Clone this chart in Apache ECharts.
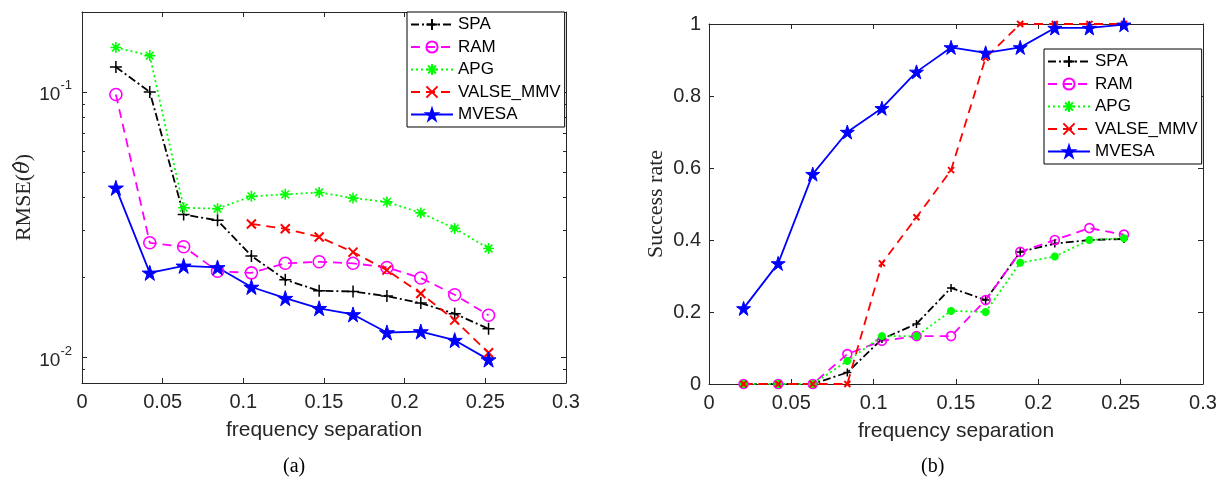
<!DOCTYPE html>
<html>
<head>
<meta charset="utf-8">
<script src="https://cdn.jsdelivr.net/npm/echarts@6/dist/echarts.min.js"></script>
<style>
html,body{margin:0;padding:0;background:#fff;}
#c{width:1222px;height:479px;}
</style>
</head>
<body>
<div id="c"></div>
<script>
// ---------- data ----------
const freqSep = [0.021, 0.042, 0.063, 0.084, 0.105, 0.126, 0.147, 0.168, 0.189, 0.210, 0.231, 0.252];
const seriesNames = ['SPA', 'RAM', 'APG', 'VALSE_MMV', 'MVESA'];

// (a) RMSE
const rmseSPA   = [0.124, 0.100, 0.0345, 0.0328, 0.0241, 0.0196, 0.0178, 0.0177, 0.0170, 0.0160, 0.0146, 0.0128];
const rmseRAM   = [0.0978, 0.0270, 0.0261, 0.0211, 0.0208, 0.0226, 0.0229, 0.0226, 0.0218, 0.0199, 0.0172, 0.0144];
const rmseAPG   = [0.147, 0.137, 0.0366, 0.0363, 0.0404, 0.0411, 0.0418, 0.0398, 0.0385, 0.0350, 0.0306, 0.0257];
const rmseVALSE = [null, null, null, null, 0.0318, 0.0305, 0.0284, 0.0249, 0.0213, 0.0174, 0.0138, 0.0104];
const rmseMVESA = [0.0435, 0.0208, 0.0221, 0.0218, 0.0184, 0.0167, 0.0153, 0.0145, 0.0124, 0.0125, 0.0116, 0.0098];

// (b) Success rate
const succSPA   = [0, 0, 0, 0.032, 0.125, 0.167, 0.267, 0.233, 0.367, 0.390, 0.400, 0.403];
const succRAM   = [0, 0, 0, 0.083, 0.120, 0.133, 0.133, 0.233, 0.367, 0.400, 0.433, 0.415];
const succAPG   = [0, 0, 0, 0.064, 0.133, 0.133, 0.203, 0.200, 0.337, 0.354, 0.400, 0.405];
const succVALSE = [0, 0, 0, 0, 0.335, 0.463, 0.594, 0.906, 1, 1, 1, 1];
const succMVESA = [0.210, 0.335, 0.583, 0.700, 0.766, 0.867, 0.935, 0.920, 0.935, 0.989, 0.989, 0.998];

// axis ticks
const xTicksMin = 0, xTicksMax = 0.3, xTickStep = 0.05;
const logMajorTicks = [0.01, 0.1];
const logMinorTicks = [0.009, 0.02, 0.03, 0.04, 0.05, 0.06, 0.07, 0.08, 0.09];
const rateMin = 0, rateMax = 1, rateStep = 0.2;

// ---------- styles ----------
const AX = '#262626';
const SANS = 'Liberation Sans';
const SERIF = 'Liberation Serif';
const PLUS = 'path://M5,0L5,10M0,5L10,5';
const CROSS = 'path://M0,0L10,10M0,10L10,0';
const ASTER = 'path://M5,0L5,10M0,5L10,5M1.5,1.5L8.5,8.5M1.5,8.5L8.5,1.5';
const STAR = 'path://M50,0L61.2,34.5L97.6,34.5L68.2,55.9L79.4,90.5L50,69.1L20.6,90.5L31.8,55.9L2.4,34.5L38.8,34.5Z';

const styles = {
  SPA:       {color:'#000000', type:[8,3,2,3], symbol:PLUS, fill:'none', bw:1.5},
  RAM:       {color:'#ff00ff', type:[9,6], symbol:'circle', fill:'rgba(0,0,0,0)', bw:1.6},
  APG:       {color:'#00ff00', type:[2,3], symbol:ASTER, fill:'none', bw:1.6},
  VALSE_MMV: {color:'#ff0000', type:[9,6], symbol:CROSS, fill:'none', bw:2},
  MVESA:     {color:'#0000ff', type:'solid', symbol:STAR, fill:'#0000ff', bw:1}
};
const sizesA = {SPA:12, RAM:12, APG:11, VALSE_MMV:9, MVESA:15};
const sizesB = {SPA:8, RAM:9, APG:8, VALSE_MMV:6, MVESA:14};
const bwB = {SPA:1.5, RAM:1.6, APG:2.6, VALSE_MMV:2, MVESA:1};

function pairs(ys){
  const out = [];
  ys.forEach((y,i)=>{ if (y !== null) out.push([freqSep[i], y]); });
  return out;
}
function mkSeries(name, ys, xi, yi, sizes, bwOverride){
  const s = styles[name];
  return {
    type:'line', name, xAxisIndex:xi, yAxisIndex:yi, data:pairs(ys),
    symbol:s.symbol, symbolSize:sizes[name], showSymbol:true, silent:true,
    color:s.color,
    lineStyle:{color:s.color, width:1.8, type:s.type},
    itemStyle:{color:s.fill, borderColor:s.color, borderWidth: bwOverride ? bwOverride[name] : s.bw},
    emphasis:{disabled:true}
  };
}

function xAxis(grid, pos, labels){
  return {
    type:'value', gridIndex:grid, position:pos, min:xTicksMin, max:xTicksMax, interval:xTickStep,
    axisLine:{show:true, onZero:false, lineStyle:{color:AX, width:1}},
    axisTick:{show:true, inside:true, length:5, lineStyle:{color:AX}},
    axisLabel:{show:labels, fontSize:20, fontFamily:SANS, color:AX, margin:9},
    splitLine:{show:false},
    name: labels ? 'frequency separation' : '',
    nameLocation:'middle', nameGap:37,
    nameTextStyle:{fontSize:21, fontFamily:SANS, color:AX}
  };
}
function logAxis(pos, ticks, len, labels, line, name){
  return {
    type:'log', logBase:10, gridIndex:0, position:pos, min:0.008, max:0.2,
    axisLine:{show:line, onZero:false, lineStyle:{color:AX, width:1}},
    axisTick:{show:true, inside:true, length:len, customValues:ticks, lineStyle:{color:AX}},
    axisLabel:{show:labels, customValues:logMajorTicks, margin:10,
      formatter:function(v){ const e = Math.round(Math.log10(v)); return '{b|10}{s|' + e + '}'; },
      rich:{ b:{fontSize:19, fontFamily:SANS, color:AX, verticalAlign:'bottom', lineHeight:25},
             s:{fontSize:13, fontFamily:SANS, color:AX, verticalAlign:'top'} } },
    splitLine:{show:false},
    name: name || '', nameLocation:'middle', nameGap:47,
    nameTextStyle:{fontSize:22, fontFamily:SERIF, color:AX,
      rich:{i:{fontSize:21, fontFamily:'DejaVu Serif', fontStyle:'italic', color:AX}}}
  };
}
function rateAxis(pos, labels){
  return {
    type:'value', gridIndex:1, position:pos, min:rateMin, max:rateMax, interval:rateStep,
    axisLine:{show:true, onZero:false, lineStyle:{color:AX, width:1}},
    axisTick:{show:true, inside:true, length:5, lineStyle:{color:AX}},
    axisLabel:{show:labels, fontSize:20, fontFamily:SANS, color:AX, margin:8},
    splitLine:{show:false},
    name: labels ? 'Success rate' : '', nameLocation:'middle', nameGap:42,
    nameTextStyle:{fontSize:22, fontFamily:SERIF, color:AX}
  };
}

function legend(left, top){
  return {
    data:seriesNames, orient:'vertical', left, top,
    itemWidth:42, itemHeight:14, itemGap:5.5, padding:[4,4,4,3],
    borderColor:'#000', borderWidth:1, backgroundColor:'#fff',
    textStyle:{fontSize:17, fontFamily:SANS, color:'#000'},
    selectedMode:false, z:10
  };
}

const option = {
  animation:false,
  backgroundColor:'#fff',
  grid:[
    {left:82, top:12, right:656, bottom:96, containLabel:false},
    {left:709, top:24, right:19, bottom:95, containLabel:false}
  ],
  xAxis:[ xAxis(0,'bottom',true), xAxis(0,'top',false), xAxis(1,'bottom',true), xAxis(1,'top',false) ],
  yAxis:[
    logAxis('left', logMajorTicks, 5, true, true, 'RMSE({i|\u03B8\u0302})'),
    logAxis('right', logMajorTicks, 5, false, true),
    logAxis('left', logMinorTicks, 3, false, false),
    logAxis('right', logMinorTicks, 3, false, false),
    rateAxis('left', true),
    rateAxis('right', false)
  ],
  legend:[ legend(407, 12), legend(1044, 49) ],
  graphic:[
    {type:'text', left:283, top:457, style:{text:'(a)', font:'20px "Liberation Serif"', fill:'#000'}},
    {type:'text', left:921, top:457, style:{text:'(b)', font:'20px "Liberation Serif"', fill:'#000'}}
  ],
  series:[
    mkSeries('SPA', rmseSPA, 0, 0, sizesA),
    mkSeries('RAM', rmseRAM, 0, 0, sizesA),
    mkSeries('APG', rmseAPG, 0, 0, sizesA),
    mkSeries('VALSE_MMV', rmseVALSE, 0, 0, sizesA),
    mkSeries('MVESA', rmseMVESA, 0, 0, sizesA),
    mkSeries('SPA', succSPA, 2, 4, sizesB, bwB),
    mkSeries('RAM', succRAM, 2, 4, sizesB, bwB),
    mkSeries('APG', succAPG, 2, 4, sizesB, bwB),
    mkSeries('VALSE_MMV', succVALSE, 2, 4, sizesB, bwB),
    mkSeries('MVESA', succMVESA, 2, 4, sizesB, bwB)
  ]
};

const chart = echarts.init(document.getElementById('c'), null, {renderer:'canvas'});
chart.setOption(option);
</script>
</body>
</html>
